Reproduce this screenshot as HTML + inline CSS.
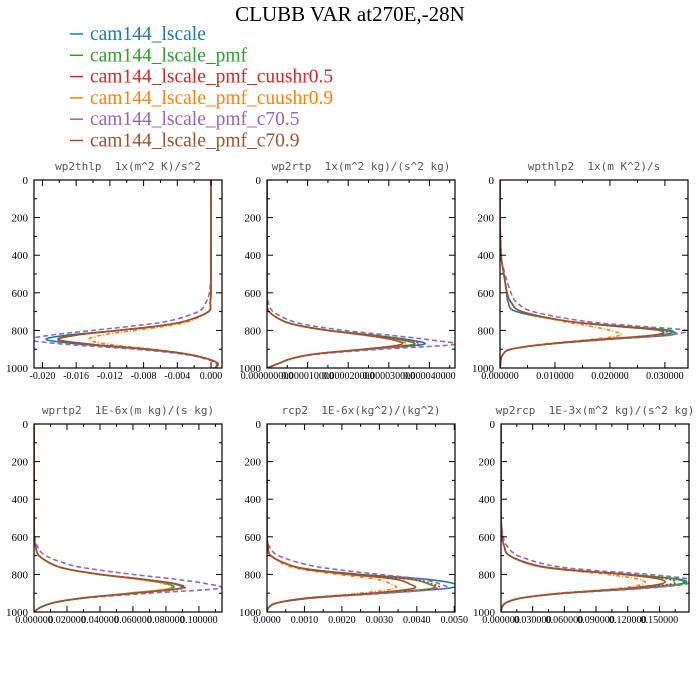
<!DOCTYPE html>
<html><head><meta charset="utf-8"><style>
html,body{margin:0;padding:0;background:#fff;}
svg{display:block;}
text{white-space:pre;}
</style></head><body>
<svg id="chart" width="700" height="700" viewBox="0 0 700 700">
<text x="350" y="21" text-anchor="middle" font-family="Liberation Serif, serif" font-size="21" fill="#000">CLUBB VAR at270E,-28N</text>
<g id="legend"></g>
<g id="panels"></g>
</svg>
<script>
const seriesNames = ["cam144_lscale","cam144_lscale_pmf","cam144_lscale_pmf_cuushr0.5","cam144_lscale_pmf_cuushr0.9","cam144_lscale_pmf_c70.5","cam144_lscale_pmf_c70.9"];
const levels = [0,200,400,500,600,650,700,750,775,800,825,850,875,900,925,950,975,1000];

// wp2thlp
const p1Blue   = [0,0,0,0,0,-0.0001,-0.0003,-0.003,-0.006,-0.011,-0.017,-0.0195,-0.015,-0.008,-0.003,-0.0005,0.0008,0.0005];
const p1Green  = [0,0,0,0,0,-0.0001,-0.0003,-0.003,-0.006,-0.011,-0.016,-0.018,-0.014,-0.0075,-0.003,-0.0005,0.0008,0.0005];
const p1Red    = [0,0,0,0,0,-0.0001,-0.0003,-0.003,-0.006,-0.011,-0.016,-0.0182,-0.014,-0.0075,-0.003,-0.0005,0.0008,0.0005];
const p1Orange = [0,0,0,0,0,-0.0001,-0.0003,-0.0025,-0.005,-0.009,-0.013,-0.0145,-0.012,-0.007,-0.003,-0.0005,0.0008,0.0005];
const p1Purple = [0,0,0,0,-0.0002,-0.0006,-0.0015,-0.005,-0.009,-0.014,-0.019,-0.0215,-0.017,-0.009,-0.0035,-0.0008,0.0006,0.0005];
const p1Brown  = [0,0,0,0,0,-0.0001,-0.0003,-0.003,-0.006,-0.011,-0.016,-0.0181,-0.014,-0.0075,-0.003,-0.0005,0.0008,0.0005];
// wp2rtp
const p2Blue   = [0,0,0,0,0,0,0.5e-6,4e-6,8e-6,15e-6,26e-6,35e-6,38.5e-6,25e-6,12e-6,6e-6,3e-6,0];
const p2Green  = [0,0,0,0,0,0,0.5e-6,4e-6,8e-6,15e-6,25e-6,33e-6,36e-6,24e-6,12e-6,6e-6,3e-6,0];
const p2Red    = [0,0,0,0,0,0,0.5e-6,4e-6,8e-6,15e-6,25e-6,34e-6,37e-6,24e-6,12e-6,6e-6,3e-6,0];
const p2Orange = [0,0,0,0,0,0,0.5e-6,4e-6,8e-6,15e-6,24e-6,31e-6,34e-6,24e-6,12e-6,6e-6,3e-6,0];
const p2Purple = [0,0,0,0,0,0.3e-6,1.5e-6,6e-6,11e-6,19e-6,30e-6,40e-6,46e-6,28e-6,13e-6,6e-6,3e-6,0];
const p2Brown  = [0,0,0,0,0,0,0.5e-6,4e-6,8e-6,15e-6,24e-6,31e-6,33e-6,24e-6,12e-6,6e-6,3e-6,0];
// wpthlp2
const p3Blue   = [0,0,0.0002,0.0007,0.0012,0.0015,0.003,0.012,0.021,0.031,0.029,0.018,0.008,0.002,0.0006,0.0002,0.0001,0];
const p3Green  = [0,0,0.0002,0.0007,0.0013,0.002,0.004,0.012,0.02,0.03,0.031,0.018,0.008,0.002,0.0006,0.0002,0.0001,0];
const p3Red    = [0,0,0.0002,0.0007,0.0013,0.002,0.004,0.012,0.02,0.029,0.03,0.018,0.008,0.002,0.0006,0.0002,0.0001,0];
const p3Orange = [0,0,0.0002,0.0007,0.0013,0.002,0.004,0.011,0.016,0.02,0.022,0.016,0.007,0.002,0.0006,0.0002,0.0001,0];
const p3Purple = [0,0,0.0002,0.0009,0.002,0.003,0.006,0.015,0.024,0.034,0.03,0.019,0.008,0.002,0.0006,0.0002,0.0001,0];
const p3Brown  = [0,0,0.0002,0.0007,0.0013,0.002,0.004,0.012,0.02,0.029,0.028,0.017,0.008,0.002,0.0006,0.0002,0.0001,0];
// wprtp2
const p4Blue   = [0,0,0,0,0,0.001,0.003,0.012,0.022,0.04,0.065,0.085,0.088,0.06,0.03,0.012,0.004,0];
const p4Green  = [0,0,0,0,0,0.001,0.003,0.012,0.022,0.04,0.063,0.081,0.083,0.058,0.03,0.012,0.004,0];
const p4Red    = [0,0,0,0,0,0.001,0.003,0.012,0.022,0.04,0.065,0.086,0.09,0.061,0.03,0.012,0.004,0];
const p4Orange = [0,0,0,0,0,0.001,0.003,0.012,0.022,0.039,0.062,0.079,0.082,0.058,0.03,0.012,0.004,0];
const p4Purple = [0,0,0,0,0.0005,0.002,0.007,0.022,0.038,0.06,0.085,0.105,0.112,0.07,0.032,0.012,0.004,0];
const p4Brown  = [0,0,0,0,0,0.001,0.003,0.012,0.022,0.04,0.065,0.086,0.089,0.061,0.03,0.012,0.004,0];
// rcp2
const p5Blue   = [0,0,0,0,0,0.00003,0.0001,0.0006,0.0012,0.0025,0.0042,0.005,0.0048,0.003,0.0012,0.0003,0.00005,0];
const p5Green  = [0,0,0,0,0,0.00003,0.0001,0.0006,0.0012,0.0024,0.0038,0.0043,0.0044,0.003,0.0012,0.0003,0.00005,0];
const p5Red    = [0,0,0,0,0,0.00003,0.0001,0.0006,0.0012,0.0024,0.0038,0.0044,0.0045,0.003,0.0012,0.0003,0.00005,0];
const p5Orange = [0,0,0,0,0,0.00003,0.0001,0.0005,0.001,0.0019,0.0029,0.0033,0.0034,0.0025,0.0011,0.0003,0.00005,0];
const p5Purple = [0,0,0,0,0,0.00006,0.0003,0.0011,0.0019,0.003,0.0041,0.0046,0.0047,0.0032,0.0013,0.0003,0.00005,0];
const p5Brown  = [0,0,0,0,0,0.00003,0.0001,0.0006,0.0011,0.0022,0.0034,0.0038,0.0039,0.0028,0.0011,0.0003,0.00005,0];
// wp2rcp
const p6Blue   = [0,0,0,0,0.001,0.003,0.008,0.03,0.06,0.12,0.168,0.172,0.13,0.06,0.02,0.005,0.001,0];
const p6Green  = [0,0,0,0,0.001,0.003,0.008,0.032,0.062,0.12,0.165,0.17,0.125,0.06,0.02,0.005,0.001,0];
const p6Red    = [0,0,0,0,0.001,0.003,0.008,0.032,0.062,0.118,0.158,0.162,0.12,0.058,0.02,0.005,0.001,0];
const p6Orange = [0,0,0,0,0.001,0.003,0.008,0.03,0.058,0.1,0.13,0.135,0.11,0.055,0.02,0.005,0.001,0];
const p6Purple = [0,0,0,0,0.002,0.006,0.016,0.045,0.08,0.14,0.178,0.176,0.135,0.062,0.02,0.005,0.001,0];
const p6Brown  = [0,0,0,0,0.001,0.003,0.008,0.032,0.062,0.115,0.15,0.152,0.118,0.058,0.02,0.005,0.001,0];

const p1Ticks = [-0.020,-0.016,-0.012,-0.008,-0.004,0.000];
const p2Ticks = [0,0.00001,0.00002,0.00003,0.00004];
const p3Ticks = [0,0.01,0.02,0.03];
const p4Ticks = [0,0.02,0.04,0.06,0.08,0.1];
const p5Ticks = [0,0.001,0.002,0.003,0.004,0.005];
const p6Ticks = [0,0.03,0.06,0.09,0.12,0.15];
const yTicks = [0,200,400,600,800,1000];

const colors = ["#1f77b4","#2ca02c","#d62728","#ff7f0e","#9467bd","#a0522d"];
const dashes = ["", "", "2,2", "4,2,1,2", "5,3", ""];
const NS = "http://www.w3.org/2000/svg";
function mk(tag, attrs, parent){const e=document.createElementNS(NS,tag);for(const k in attrs)e.setAttribute(k,attrs[k]);parent.appendChild(e);return e;}
function smooth(pts){
  let d='M'+pts[0][0].toFixed(1)+','+pts[0][1].toFixed(1);
  for(let i=0;i<pts.length-1;i++){
    const p0=pts[Math.max(0,i-1)],p1=pts[i],p2=pts[i+1],p3=pts[Math.min(pts.length-1,i+2)];
    const c1=[p1[0]+(p2[0]-p0[0])/6,p1[1]+(p2[1]-p0[1])/6];
    const c2=[p2[0]-(p3[0]-p1[0])/6,p2[1]-(p3[1]-p1[1])/6];
    d+='C'+c1[0].toFixed(1)+','+c1[1].toFixed(1)+' '+c2[0].toFixed(1)+','+c2[1].toFixed(1)+' '+p2[0].toFixed(1)+','+p2[1].toFixed(1);
  }
  return d;
}

const legend = document.getElementById('legend');
seriesNames.forEach((n,i)=>{
  const y = 40 + i*21.3;
  const g = mk('g',{},legend);
  
  
  mk('line',{x1:70,x2:83,y1:y-6,y2:y-6,stroke:colors[i],'stroke-width':1.5},g);
  const t = mk('text',{x:90,y:y,'font-family':'Liberation Serif, serif','font-size':19.5,fill:colors[i]},g);
  t.textContent = n;
});

const panels = [
 {name:'wp2thlp',title:'wp2thlp  1x(m^2 K)/s^2',x:34,y:180,xmin:-0.0210,xmax:0.0013,ticks:p1Ticks,dec:3,series:[p1Blue,p1Green,p1Red,p1Orange,p1Purple,p1Brown]},
 {name:'wp2rtp',title:'wp2rtp  1x(m^2 kg)/(s^2 kg)',x:267,y:180,xmin:0,xmax:0.0000463,ticks:p2Ticks,dec:9,series:[p2Blue,p2Green,p2Red,p2Orange,p2Purple,p2Brown]},
 {name:'wpthlp2',title:'wpthlp2  1x(m K^2)/s',x:500,y:180,xmin:0,xmax:0.0342,ticks:p3Ticks,dec:6,series:[p3Blue,p3Green,p3Red,p3Orange,p3Purple,p3Brown]},
 {name:'wprtp2',title:'wprtp2  1E-6x(m kg)/(s kg)',x:34,y:424,xmin:0,xmax:0.114,ticks:p4Ticks,dec:6,series:[p4Blue,p4Green,p4Red,p4Orange,p4Purple,p4Brown]},
 {name:'rcp2',title:'rcp2  1E-6x(kg^2)/(kg^2)',x:267,y:424,xmin:0,xmax:0.00502,ticks:p5Ticks,dec:4,series:[p5Blue,p5Green,p5Red,p5Orange,p5Purple,p5Brown]},
 {name:'wp2rcp',title:'wp2rcp  1E-3x(m^2 kg)/(s^2 kg)',x:501,y:424,xmin:0,xmax:0.178,ticks:p6Ticks,dec:6,series:[p6Blue,p6Green,p6Red,p6Orange,p6Purple,p6Brown]},
];
const W=188,H=188;
const root=document.getElementById('panels');
panels.forEach(p=>{
  const g=mk('g',{},root);
  
  
  const sx=v=>p.x+(v-p.xmin)/(p.xmax-p.xmin)*W;
  const sy=v=>p.y+v/1000*H;
  const t=mk('text',{x:p.x+W/2,y:p.y-10,'text-anchor':'middle','font-family':'DejaVu Sans Mono, monospace','font-size':11,fill:'#555'},g);
  
  
  t.textContent=p.title;
  const cp='clip-'+p.name;
  const c=mk('clipPath',{id:cp},g); mk('rect',{x:p.x,y:p.y,width:W,height:H},c);
  p.series.forEach((s,i)=>{
    const pts=s.map((v,k)=>[sx(v),sy(levels[k])]);
    const path=mk('path',{d:smooth(pts),fill:'none',stroke:colors[i],'stroke-width':1.6,'stroke-dasharray':dashes[i],'clip-path':'url(#'+cp+')'},g);
    
    
  });
  const fr=mk('rect',{x:p.x,y:p.y,width:W,height:H,fill:'none',stroke:'#000','stroke-width':1.2},g);
  
  
  for(let v=0;v<=1000;v+=100){
    const y=sy(v), L=(v%200===0)?6:3;
    mk('line',{x1:p.x,x2:p.x+L,y1:y,y2:y,stroke:'#000'},g);
    mk('line',{x1:p.x+W,x2:p.x+W-L,y1:y,y2:y,stroke:'#000'},g);
  }
  yTicks.forEach(v=>{
    const tl=mk('text',{x:p.x-6,y:sy(v)+4,'text-anchor':'end','font-family':'Liberation Serif, serif','font-size':11,fill:'#000'},g);
    
    
    tl.textContent=v;
  });
  const step=p.ticks[1]-p.ticks[0];
  for(let k=-1;k<=p.ticks.length*2;k++){
    const v=p.ticks[0]+k*step/2;
    const x=sx(v); if(x<p.x-0.5||x>p.x+W+0.5)continue;
    const L=(k%2===0)?6:3;
    mk('line',{x1:x,x2:x,y1:p.y+H,y2:p.y+H-L,stroke:'#000'},g);
    mk('line',{x1:x,x2:x,y1:p.y,y2:p.y+L,stroke:'#000'},g);
  }
  p.ticks.forEach(v=>{
    const tl=mk('text',{x:sx(v),y:p.y+H+11,'text-anchor':'middle','font-family':'Liberation Serif, serif','font-size':10,fill:'#000'},g);
    
    
    tl.textContent=v.toFixed(p.dec);
  });
});
</script>
</body></html>
